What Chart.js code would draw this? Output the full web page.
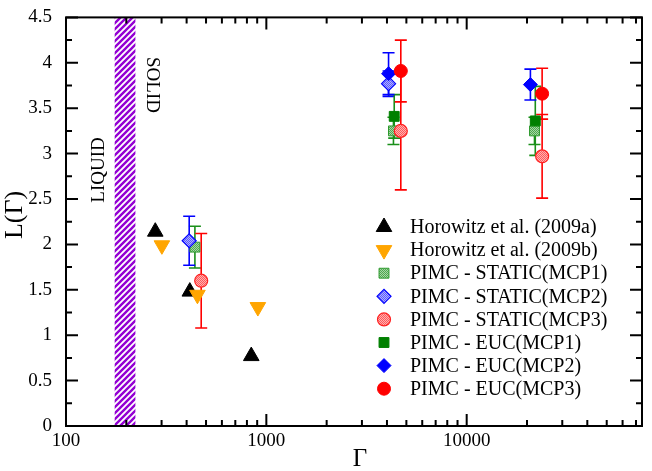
<!DOCTYPE html>
<html>
<head>
<meta charset="utf-8">
<script src="https://cdn.jsdelivr.net/npm/chart.js@4.4.1/dist/chart.umd.min.js"></script>
<style>
  html, body { margin: 0; padding: 0; background: #fff; }
  canvas { display: block; }
</style>
</head>
<body>
<canvas id="chart" width="652" height="471"></canvas>
<script>
// --- data ---
const xTickLabels = [100, 1000, 10000];
const yTickLabels = [0, 0.5, 1, 1.5, 2, 2.5, 3, 3.5, 4, 4.5];
const meltBand = [175, 222];           // liquid/solid boundary (Γ)

const horowitzAGamma = [279, 415, 841];
const horowitzAL     = [2.14, 1.48, 0.77];
const horowitzBGamma = [301, 453, 907];
const horowitzBL     = [1.99, 1.445, 1.31];

const staticMcp1Gamma = [440, 4310, 21800];
const staticMcp1L     = [1.97, 3.25, 3.25];
const staticMcp1Err   = [0.23, 0.15, 0.15];
const staticMcp2Gamma = [412, 4074];
const staticMcp2L     = [2.04, 3.77];
const staticMcp2Err   = [0.27, 0.14];
const staticMcp3Gamma = [473, 4690, 23800];
const staticMcp3L     = [1.60, 3.25, 2.97];
const staticMcp3Err   = [0.52, 0.65, 0.46];

const eucMcp1Gamma = [4348, 22000];
const eucMcp1L     = [3.41, 3.36];
const eucMcp1Err   = [0.24, 0.38];
const eucMcp2Gamma = [4074, 20800];
const eucMcp2L     = [3.88, 3.76];
const eucMcp2Err   = [0.23, 0.17];
const eucMcp3Gamma = [4690, 23800];
const eucMcp3L     = [3.91, 3.66];
const eucMcp3Err   = [0.34, 0.28];

const SERIF = "'Liberation Serif', 'DejaVu Serif', serif";

const pts = (xs, ys) => xs.map((g, i) => ({ x: g, y: ys[i] }));

// small checker tile for the "hatched" static markers
function checker(c1, c2) {
    const t = document.createElement('canvas');
    t.width = 2; t.height = 2;
    const g = t.getContext('2d');
    g.fillStyle = c1; g.fillRect(0, 0, 2, 2);
    g.fillStyle = c2; g.fillRect(0, 0, 1, 1); g.fillRect(1, 1, 1, 1);
    return g.createPattern(t, 'repeat');
}

function stripes(color) {
    const s = 6;
    const t = document.createElement('canvas');
    t.width = s; t.height = s;
    const g = t.getContext('2d');
    g.strokeStyle = color;
    g.lineWidth = 2.4;
    g.beginPath();
    g.moveTo(-1, s + 1); g.lineTo(s + 1, -1);
    g.moveTo(-1, 1); g.lineTo(1, -1);
    g.moveTo(s - 1, s + 1); g.lineTo(s + 1, s - 1);
    g.stroke();
    return g.createPattern(t, 'repeat');
}

const datasets = [
    { label: 'Horowitz et al. (2009a)', data: pts(horowitzAGamma, horowitzAL),
      pointStyle: 'triangle', pointRadius: 9, backgroundColor: '#000', borderColor: '#000', borderWidth: 1 },
    { label: 'Horowitz et al. (2009b)', data: pts(horowitzBGamma, horowitzBL),
      pointStyle: 'triangle', rotation: 180, pointRadius: 9, backgroundColor: '#ffa500', borderColor: '#ffa500', borderWidth: 1 },
    { label: 'PIMC - STATIC(MCP1)', data: pts(staticMcp1Gamma, staticMcp1L), err: staticMcp1Err, errColor: '#1a8f1a',
      pointStyle: 'rect', pointRadius: 7, backgroundColor: checker('#a6d6a6', '#4fa84f'), borderColor: '#2e9a2e', borderWidth: 1 },
    { label: 'PIMC - STATIC(MCP2)', data: pts(staticMcp2Gamma, staticMcp2L), err: staticMcp2Err, errColor: '#0000ff',
      pointStyle: 'rectRot', pointRadius: 7, backgroundColor: checker('#b0b0ff', '#5a5aff'), borderColor: '#0000ff', borderWidth: 1.2 },
    { label: 'PIMC - STATIC(MCP3)', data: pts(staticMcp3Gamma, staticMcp3L), err: staticMcp3Err, errColor: '#ff0000',
      pointStyle: 'circle', pointRadius: 6.5, backgroundColor: checker('#ffb0b0', '#ff5a5a'), borderColor: '#ff2020', borderWidth: 1.2 },
    { label: 'PIMC - EUC(MCP1)', data: pts(eucMcp1Gamma, eucMcp1L), err: eucMcp1Err, errColor: '#1a8f1a',
      pointStyle: 'rect', pointRadius: 7, backgroundColor: '#008000', borderColor: '#008000', borderWidth: 1 },
    { label: 'PIMC - EUC(MCP2)', data: pts(eucMcp2Gamma, eucMcp2L), err: eucMcp2Err, errColor: '#0000ff',
      pointStyle: 'rectRot', pointRadius: 7, backgroundColor: '#0000ff', borderColor: '#0000ff', borderWidth: 1 },
    { label: 'PIMC - EUC(MCP3)', data: pts(eucMcp3Gamma, eucMcp3L), err: eucMcp3Err, errColor: '#ff0000',
      pointStyle: 'circle', pointRadius: 6.5, backgroundColor: '#ff0000', borderColor: '#ff0000', borderWidth: 1 },
];
datasets.forEach((d, i) => { d.order = datasets.length - i; d.pointHoverRadius = d.pointRadius; });

// band, error bars, frame with inward ticks, annotations, legend
const decorations = {
    id: 'decorations',
    beforeDatasetsDraw(chart) {
        const { ctx, chartArea: a, scales: { x, y } } = chart;
        ctx.save();
        const x0 = x.getPixelForValue(meltBand[0]);
        const x1 = x.getPixelForValue(meltBand[1]);
        ctx.fillStyle = stripes('#9400d3');
        ctx.fillRect(x0, a.top, x1 - x0, a.bottom - a.top);

        ctx.lineWidth = 1.6;
        chart.data.datasets.forEach(ds => {
            if (!ds.err) return;
            ctx.strokeStyle = ds.errColor;
            ds.data.forEach((p, i) => {
                const px = x.getPixelForValue(p.x);
                const top = y.getPixelForValue(p.y + ds.err[i]);
                const bot = y.getPixelForValue(p.y - ds.err[i]);
                ctx.beginPath();
                ctx.moveTo(px, top); ctx.lineTo(px, bot);
                ctx.moveTo(px - 6, top); ctx.lineTo(px + 6, top);
                ctx.moveTo(px - 6, bot); ctx.lineTo(px + 6, bot);
                ctx.stroke();
            });
        });
        ctx.restore();
    },
    afterDraw(chart) {
        const { ctx, chartArea: a, scales: { x, y } } = chart;
        ctx.save();
        ctx.strokeStyle = '#000';
        ctx.lineWidth = 2;
        ctx.strokeRect(a.left, a.top, a.right - a.left, a.bottom - a.top);

        // x ticks (log, inward, bottom and top)
        ctx.beginPath();
        for (let dec = 100; dec <= 10000; dec *= 10) {
            for (let m = 1; m <= 9; m++) {
                const v = dec * m;
                if (v > x.max) break;
                const px = x.getPixelForValue(v);
                const len = m === 1 ? 12 : 6;
                ctx.moveTo(px, a.bottom); ctx.lineTo(px, a.bottom - len);
                ctx.moveTo(px, a.top); ctx.lineTo(px, a.top + len);
            }
        }
        // y ticks
        for (let v = 0; v <= 4.5001; v += 0.25) {
            const py = y.getPixelForValue(v);
            const len = Math.abs(v * 2 - Math.round(v * 2)) < 1e-6 ? 12 : 6;
            ctx.moveTo(a.left, py); ctx.lineTo(a.left + len, py);
            ctx.moveTo(a.right, py); ctx.lineTo(a.right - len, py);
        }
        ctx.stroke();

        // axis titles
        ctx.fillStyle = '#000';
        ctx.textAlign = 'center';
        ctx.textBaseline = 'middle';
        ctx.font = '25px ' + SERIF;
        ctx.fillText('Γ', 360, 459);
        ctx.save();
        ctx.translate(15, 215);
        ctx.rotate(-Math.PI / 2);
        ctx.font = '26px ' + SERIF;
        ctx.fillText('L(Γ)', 0, 0);
        ctx.restore();

        // phase labels
        ctx.font = '19px ' + SERIF;
        ctx.save();
        ctx.translate(99, 170);
        ctx.rotate(-Math.PI / 2);
        ctx.fillText('LIQUID', 0, 0);
        ctx.restore();
        ctx.save();
        ctx.translate(152, 85);
        ctx.rotate(Math.PI / 2);
        ctx.fillText('SOLID', 0, 0);
        ctx.restore();

        // legend
        ctx.textAlign = 'left';
        ctx.font = '20px ' + SERIF;
        chart.data.datasets.forEach((ds, i) => {
            const ly = 227 + i * 23.1;
            ctx.fillStyle = ds.backgroundColor;
            ctx.strokeStyle = ds.borderColor;
            ctx.lineWidth = ds.borderWidth;
            Chart.helpers.drawPoint(ctx, {
                pointStyle: ds.pointStyle, radius: ds.pointRadius, rotation: ds.rotation || 0, borderWidth: ds.borderWidth
            }, 384, ly);
            ctx.fillStyle = '#000';
            ctx.fillText(ds.label, 410, ly + 1);
        });
        ctx.restore();
    }
};

new Chart(document.getElementById('chart'), {
    type: 'scatter',
    data: { datasets },
    options: {
        responsive: false,
        animation: false,
        layout: { padding: { top: 13, right: 1, left: 0, bottom: 0 } },
        plugins: { legend: { display: false }, tooltip: { enabled: false } },
        scales: {
            x: {
                type: 'logarithmic',
                min: 100, max: 75000,
                grid: { display: false },
                border: { display: false },
                afterFit: s => { s.height = 45; },
                afterBuildTicks: s => { s.ticks = xTickLabels.map(v => ({ value: v })); },
                ticks: {
                    autoSkip: false, maxRotation: 0, padding: -4, color: '#000',
                    font: { family: SERIF, size: 19 },
                    callback: v => String(v)
                }
            },
            y: {
                min: 0, max: 4.5,
                grid: { display: false },
                border: { display: false },
                afterFit: s => { s.width = 66; },
                afterBuildTicks: s => { s.ticks = yTickLabels.map(v => ({ value: v })); },
                ticks: {
                    padding: 6, color: '#000',
                    font: { family: SERIF, size: 19 },
                    callback: v => String(v)
                }
            }
        }
    },
    plugins: [decorations]
});
</script>
</body>
</html>
